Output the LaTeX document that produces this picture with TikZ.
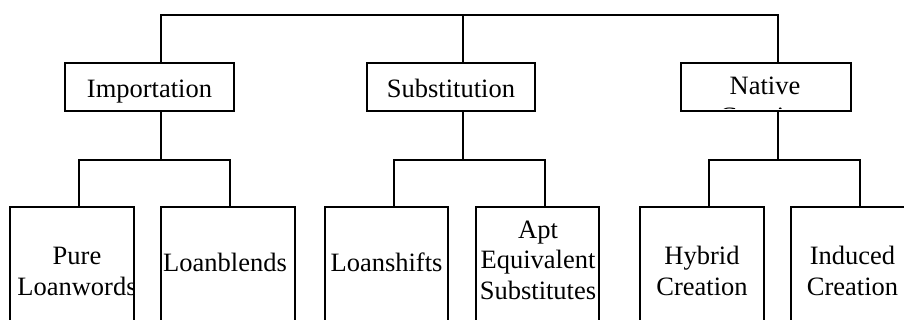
\documentclass[tikz,border=0pt]{standalone}
\usepackage{fontspec}
\setmainfont{Liberation Serif}
\begin{document}
\begin{tikzpicture}[x=1pt,y=-1pt,
  box/.style={draw=black,line width=1.8pt,rectangle,inner sep=0pt,outer sep=0pt,anchor=north west},
  lbl/.style={inner sep=0pt,anchor=base,font=\fontsize{26.5}{30}\selectfont},
  conn/.style={draw=black,line width=1.8pt}]
\useasboundingbox (0,0) rectangle (904,320);
\clip (0,0) rectangle (904,320);
% top-level boxes
\node[box,minimum width=169pt,minimum height=48pt] (imp) at (65,63) {};
\node[box,minimum width=168pt,minimum height=48pt] (sub) at (367,63) {};
\node[box,minimum width=170pt,minimum height=48pt] (nat) at (681,63) {};
% child boxes
\node[box,minimum width=124pt,minimum height=140pt] (pure) at (10,207) {};
\node[box,minimum width=134pt,minimum height=140pt] (blend) at (161,207) {};
\node[box,minimum width=123pt,minimum height=140pt] (shift) at (325,207) {};
\node[box,minimum width=123pt,minimum height=140pt] (apt) at (476,207) {};
\node[box,minimum width=124pt,minimum height=140pt] (hyb) at (640,207) {};
\node[box,minimum width=124pt,minimum height=140pt] (ind) at (791,207) {};
% labels
\node[lbl] (impL) at (149.5,97.5) {Importation};
\node[lbl] (subL) at (451,97.5) {Substitution};
\begin{scope}
  \clip ([yshift=2pt]nat.south west) rectangle (nat.north east);
  \node[lbl] (natL1) at (765,95) {Native};
  \node[lbl] (natL2) at (765,125.5) {Creation};
\end{scope}
\begin{scope}
  \clip (pure.south west) rectangle (pure.north east);
  \node[lbl] (pureL1) at (77,265) {Pure};
  \node[lbl] (pureL2) at (77,295.5) {Loanwords};
\end{scope}
\node[lbl] (blendL) at (225,271.5) {Loanblends};
\node[lbl] (shiftL) at (386.5,271.5) {Loanshifts};
\node[lbl] (aptL1) at (538,238.5) {Apt};
\node[lbl] (aptL2) at (538,268.5) {Equivalent};
\node[lbl] (aptL3) at (538,299.5) {Substitutes};
\node[lbl] (hybL1) at (702,265) {Hybrid};
\node[lbl] (hybL2) at (702,295.5) {Creation};
\node[lbl] (indL1) at (852.5,265) {Induced};
\node[lbl] (indL2) at (852.5,295.5) {Creation};
% connectors
\coordinate (top) at (462,15);
\coordinate (impJ) at (161,63);
\coordinate (subJ) at (462.7,63);
\coordinate (natJ) at (778,63);
\path[conn] (impJ) -- (impJ |- top) -- (natJ |- top) -- (natJ);
\path[conn] (subJ) -- (subJ |- top);
% importation children
\coordinate (impB) at (161,111);
\coordinate (pureJ) at (79,207);
\coordinate (blendJ) at (230,207);
\path[conn] (impB) -- (161,160);
\path[conn] (pureJ) -- (pureJ |- 0,160) -- (blendJ |- 0,160) -- (blendJ);
% substitution children
\coordinate (subB) at (462.7,111);
\coordinate (shiftJ) at (394,207);
\coordinate (aptJ) at (545,207);
\path[conn] (subB) -- (subB |- 0,160);
\path[conn] (shiftJ) -- (shiftJ |- 0,160) -- (aptJ |- 0,160) -- (aptJ);
% native children
\coordinate (natB) at (778,111);
\coordinate (hybJ) at (709,207);
\coordinate (indJ) at (860,207);
\path[conn] (natB) -- (natB |- 0,160);
\path[conn] (hybJ) -- (hybJ |- 0,160) -- (indJ |- 0,160) -- (indJ);
\end{tikzpicture}
\end{document}
